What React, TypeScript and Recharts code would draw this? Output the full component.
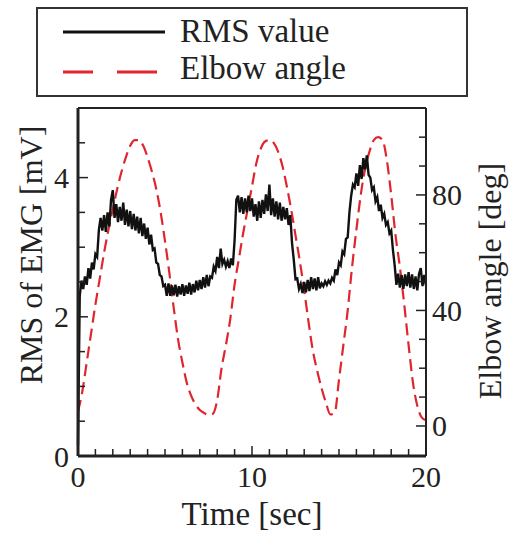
import React from 'react';
import { LineChart, Line, XAxis, YAxis } from 'recharts';

// RMS of EMG [mV], sampled every 0.1 s from 0 to 20 s
const RMS_STEP = 0.1;
const rmsValues = [
  0.15, 2.30, 2.52, 2.40, 2.58, 2.46, 2.70, 2.55, 2.78, 2.68,
  2.90, 2.86, 3.25, 3.42, 3.24, 3.46, 3.22, 3.50, 3.30, 3.68,
  3.82, 3.42, 3.62, 3.36, 3.58, 3.38, 3.64, 3.32, 3.54, 3.30,
  3.52, 3.26, 3.48, 3.24, 3.44, 3.20, 3.42, 3.16, 3.34, 3.12,
  3.28, 3.04, 3.18, 2.96, 2.98, 2.78, 2.76, 2.60, 2.58, 2.44,
  2.46, 2.30, 2.48, 2.30, 2.45, 2.31, 2.46, 2.29, 2.44, 2.32,
  2.47, 2.30, 2.45, 2.33, 2.49, 2.32, 2.47, 2.35, 2.52, 2.38,
  2.53, 2.40, 2.57, 2.42, 2.60, 2.44, 2.58, 2.56, 2.72, 2.66,
  2.86, 2.70, 2.98, 2.76, 2.82, 2.72, 2.80, 2.70, 2.84, 2.74,
  3.10, 3.68, 3.74, 3.50, 3.72, 3.48, 3.70, 3.50, 3.74, 3.52,
  3.70, 3.44, 3.62, 3.38, 3.66, 3.42, 3.68, 3.48, 3.76, 3.52,
  3.90, 3.46, 3.70, 3.44, 3.66, 3.40, 3.64, 3.38, 3.58, 3.40,
  3.56, 3.32, 3.46, 3.06, 2.82, 2.54, 2.55, 2.40, 2.47, 2.34,
  2.50, 2.35, 2.53, 2.37, 2.57, 2.40, 2.55, 2.38, 2.57, 2.41,
  2.48, 2.44, 2.51, 2.46, 2.52, 2.48, 2.56, 2.52, 2.68, 2.60,
  2.78, 2.74, 2.94, 2.90, 3.12, 3.14, 3.50, 3.74, 3.90, 3.86,
  4.06, 3.88, 4.18, 3.98, 4.28, 4.12, 4.32, 4.04, 4.00, 3.82,
  3.86, 3.66, 3.72, 3.52, 3.61, 3.42, 3.48, 3.32, 3.36, 3.20,
  3.24, 2.96, 2.74, 2.46, 2.62, 2.42, 2.60, 2.40, 2.61, 2.44,
  2.64, 2.42, 2.61, 2.40, 2.58, 2.38, 2.62, 2.70, 2.44, 2.60,
  2.45,
];

// Elbow angle [deg], sampled every 0.25 s
const ANGLE_STEP = 0.25;
const angleValues = [
  5, 12, 22, 32, 42, 51, 60, 68, 75, 82, 88, 93, 97, 99, 99, 97,
  93, 88, 82, 74, 64, 53, 41, 30, 22, 15, 10.5, 7.5, 5.5, 4.5, 3.8, 4.2,
  9, 20, 28, 37, 49, 58, 67, 75, 83, 91, 96, 98.5, 99, 98, 95, 90,
  83, 75, 66, 57, 47, 36, 26, 19, 13, 8, 4, 4.5, 16, 28, 40, 55,
  68, 80, 89, 95, 99, 100, 99, 92, 80, 66, 55, 42, 28, 15, 7, 3,
  2,
];

const timeTicks = [0, 1, 2, 3, 4, 5, 6, 7, 8, 9, 10, 11, 12, 13, 14, 15, 16, 17, 18, 19, 20];
const timeLabels = [0, 10, 20];
const rmsTicks = [0, 0.5, 1, 1.5, 2, 2.5, 3, 3.5, 4, 4.5];
const rmsLabels = [0, 2, 4];
const angleTicks = [0, 10, 20, 30, 40, 50, 60, 70, 80, 90, 100];
const angleLabels = [0, 40, 80];

const rmsData = rmsValues.map((v, i) => ({ t: Math.round(i * RMS_STEP * 10) / 10, rms: v }));
const angleData = angleValues.map((v, i) => ({ t: i * ANGLE_STEP, angle: v }));

const FONT = "'Liberation Serif', 'Times New Roman', serif";
const INK = '#222';
const RED = '#e0252d';

const BottomTick = ({ x, y, payload }: any) => {
  const major = timeLabels.includes(payload.value);
  return (
    <g>
      <line x1={x} x2={x} y1={y} y2={y - (major ? 10 : 7)} stroke={INK} strokeWidth={1.5} />
      {major && (
        <text x={x} y={y + 31} textAnchor="middle" fontSize={30} fontFamily={FONT} fill={INK}>
          {payload.value}
        </text>
      )}
    </g>
  );
};

const TopTick = ({ x, y, payload }: any) => {
  const major = timeLabels.includes(payload.value);
  return <line x1={x} x2={x} y1={y} y2={y + (major ? 10 : 7)} stroke={INK} strokeWidth={1.5} />;
};

const LeftTick = ({ x, y, payload }: any) => {
  const major = rmsLabels.includes(payload.value);
  return (
    <g>
      <line x1={x} x2={x + (major ? 10 : 7)} y1={y} y2={y} stroke={INK} strokeWidth={1.5} />
      {major && (
        <text x={x - 9} y={y} dy="0.35em" textAnchor="end" fontSize={30} fontFamily={FONT} fill={INK}>
          {payload.value}
        </text>
      )}
    </g>
  );
};

const RightTick = ({ x, y, payload }: any) => {
  const major = angleLabels.includes(payload.value);
  return (
    <g>
      <line x1={x} x2={x - (major ? 10 : 7)} y1={y} y2={y} stroke={INK} strokeWidth={1.5} />
      {major && (
        <text x={x + 6} y={y} dy="0.35em" textAnchor="start" fontSize={30} fontFamily={FONT} fill={INK}>
          {payload.value}
        </text>
      )}
    </g>
  );
};

export default function App() {
  return (
    <div style={{ position: 'absolute', left: 0, top: 0, width: 509, height: 539, background: '#fff' }}>
      <LineChart width={509} height={539} margin={{ top: 0, right: 0, bottom: 0, left: 0 }}>
        <XAxis
          xAxisId="bottom"
          dataKey="t"
          type="number"
          domain={[0, 20]}
          ticks={timeTicks}
          interval={0}
          height={83}
          tickSize={0}
          tickMargin={0}
          tick={<BottomTick />}
          axisLine={{ stroke: INK, strokeWidth: 3 }}
        />
        <XAxis
          xAxisId="top"
          orientation="top"
          dataKey="t"
          type="number"
          domain={[0, 20]}
          ticks={timeTicks}
          interval={0}
          height={108}
          tickSize={0}
          tickMargin={0}
          tick={<TopTick />}
          axisLine={{ stroke: INK, strokeWidth: 2 }}
        />
        <YAxis
          yAxisId="left"
          type="number"
          domain={[0, 5]}
          ticks={rmsTicks}
          interval={0}
          width={78}
          tickSize={0}
          tickMargin={0}
          tick={<LeftTick />}
          axisLine={{ stroke: INK, strokeWidth: 3 }}
          allowDataOverflow
        />
        <YAxis
          yAxisId="right"
          orientation="right"
          type="number"
          domain={[-10.4, 110.1]}
          ticks={angleTicks}
          interval={0}
          width={83}
          tickSize={0}
          tickMargin={0}
          tick={<RightTick />}
          axisLine={{ stroke: INK, strokeWidth: 2 }}
          allowDataOverflow
        />
        <Line
          data={angleData}
          xAxisId="bottom"
          yAxisId="right"
          dataKey="angle"
          type="monotone"
          stroke={RED}
          strokeWidth={2.2}
          strokeDasharray="12 6"
          dot={false}
          activeDot={false}
          isAnimationActive={false}
        />
        <Line
          data={rmsData}
          xAxisId="bottom"
          yAxisId="left"
          dataKey="rms"
          type="linear"
          stroke="#111"
          strokeWidth={2.4}
          dot={false}
          activeDot={false}
          isAnimationActive={false}
        />
        {/* legend box */}
        <rect x={37} y={8} width={430} height={88} fill="#fff" stroke="#333" strokeWidth={2} />
        <line x1={63} x2={165} y1={32} y2={32} stroke="#111" strokeWidth={3} />
        <text x={180} y={42} fontSize={33} fontFamily={FONT} fill={INK}>RMS value</text>
        <line x1={63} x2={157} y1={72} y2={72} stroke={RED} strokeWidth={3} strokeDasharray="30 24 40 100" />
        <text x={180} y={79} fontSize={33} fontFamily={FONT} fill={INK}>Elbow angle</text>
        {/* axis titles */}
        <text x={252} y={525} textAnchor="middle" fontSize={33} fontFamily={FONT} fill={INK}>Time [sec]</text>
        <text
          x={31}
          y={255}
          textAnchor="middle"
          dominantBaseline="central"
          transform="rotate(-90 31 255)"
          fontSize={32}
          fontFamily={FONT}
          fill={INK}
        >
          RMS of EMG [mV]
        </text>
        <text
          x={490}
          y={281}
          textAnchor="middle"
          dominantBaseline="central"
          transform="rotate(-90 490 281)"
          fontSize={32}
          fontFamily={FONT}
          fill={INK}
        >
          Elbow angle [deg]
        </text>
      </LineChart>
    </div>
  );
}
